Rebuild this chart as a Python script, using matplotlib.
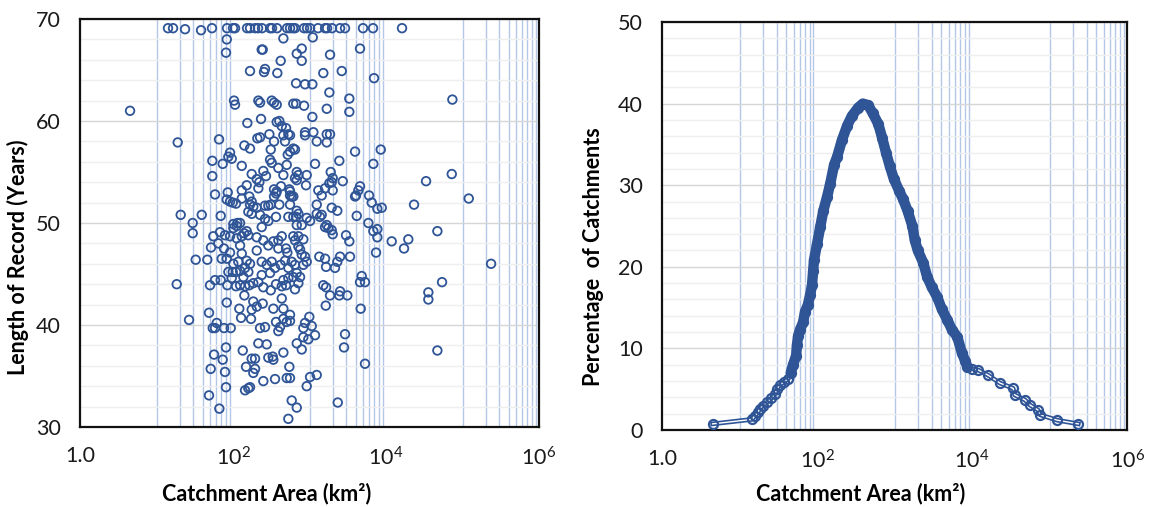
import numpy as np
import matplotlib
matplotlib.use("Agg")
import matplotlib.pyplot as plt
from matplotlib.ticker import FixedLocator, MultipleLocator, NullFormatter
import matplotlib.patheffects as pe

plt.rcParams['font.family'] = ['Lato', 'DejaVu Sans']
plt.rcParams['mathtext.fontset'] = 'custom'
plt.rcParams['mathtext.rm'] = 'Lato'

BLUE = '#2f5597'

# ---- left panel: record length vs catchment area (area read as log10 km2) ----
log_area = [
    # capped at ~69 years
    1.150, 1.216, 1.373, 1.582, 1.725, 1.922, 2.000, 2.026, 2.183, 2.222, 2.288, 2.327,
    2.379, 2.484, 2.510, 2.575, 2.706, 2.745, 2.784, 2.810, 2.928, 2.967, 3.007, 3.111,
    3.203, 3.229, 3.294, 3.399, 3.464, 3.699, 3.830, 4.209,
    # upper left block
    2.658, 1.918, 1.908, 2.375, 2.388, 2.833, 2.623, 2.222, 2.418, 2.405, 2.579, 2.824,
    2.013, 2.026, 2.331, 2.353, 2.506, 2.536, 2.571, 2.788, 2.824, 2.187, 2.366, 2.571,
    2.605, 2.637, 2.693, 2.475, 2.318, 2.353, 2.536, 2.658, 2.723, 2.680, 1.277, 1.817,
    2.148, 2.222, 2.493, 2.788, 2.810, 2.715, 1.961, 1.939, 1.983, 1.729, 1.865, 2.114,
    2.484, 2.506, 2.592, 2.702, 2.396, 2.244, 2.431, 2.658, 1.729, 2.310, 2.344, 2.810,
    2.833, 2.179, 2.331, 2.114, 2.536, 2.571, 2.627, 2.736, 2.745, 1.765, 1.931, 1.918,
    1.961, 1.996, 2.039, 2.114, 2.213, 2.536, 2.562, 2.788, 2.244, 2.222, 2.265, 2.310,
    2.418, 2.461, 2.493, 2.605, 2.745, 1.316, 1.591, 1.839, 2.200, 2.244, 2.353, 2.562,
    2.723, 2.824, 1.473, 2.056, 2.004, 2.418, 2.461,
    # upper right block
    3.042, 2.898, 2.898, 3.268, 3.660, 3.180, 3.421, 3.843, 2.941, 3.037, 3.259, 3.520,
    2.928, 3.225, 3.520, 3.037, 2.745, 2.941, 2.941, 3.050, 3.225, 3.268, 3.094, 3.225,
    2.745, 3.595, 3.931, 3.072, 3.389, 3.834, 2.833, 2.854, 2.963, 3.277, 3.303, 3.290,
    3.259, 3.434, 4.523, 2.954, 3.115, 3.159, 3.203, 3.303, 3.660, 3.638, 3.608, 3.595,
    3.778, 3.813, 2.745, 2.767, 3.094, 3.290, 3.363, 3.886, 3.944, 4.366, 2.833, 2.854,
    2.788, 3.094, 3.137, 3.159, 2.963, 3.007, 3.769, 3.225,
    # lower left block
    1.473, 1.742, 1.830, 1.895, 1.961, 2.004, 2.048, 2.092, 2.144, 2.179, 2.200, 2.114,
    2.048, 1.712, 1.808, 1.882, 1.961, 2.092, 2.114, 2.310, 2.396, 2.461, 2.527, 2.592,
    2.637, 2.592, 2.693, 2.710, 2.788, 2.833, 2.810, 2.310, 2.375, 1.512, 1.664, 1.852,
    1.918, 2.004, 2.069, 2.179, 2.222, 2.157, 1.939, 1.996, 2.039, 2.092, 2.200, 2.135,
    1.983, 2.375, 2.440, 2.506, 2.549, 2.375, 2.484, 2.623, 2.680, 2.723, 2.767, 2.810,
    2.833, 2.788, 2.723, 2.658, 1.765, 1.839, 1.699, 1.925, 2.039, 2.092, 2.157, 2.213,
    2.265, 2.331, 2.396, 2.493, 2.562, 2.637, 2.693, 2.810, 2.148, 1.918, 2.637, 2.265,
    2.388, 2.310, 2.082, 2.244, 2.527, 2.658, 1.686, 2.105, 2.235, 2.353, 2.418, 2.562,
    2.614, 2.592, 2.702, 2.745, 2.658, 1.425, 1.735, 1.787, 1.882, 1.970, 1.765, 2.331,
    2.440, 2.833, 1.908, 2.127, 2.658, 1.752, 1.865, 2.244, 2.288, 2.461, 2.527, 2.519,
    2.170, 2.288, 2.265, 1.708, 1.895, 2.736, 2.396, 2.549, 2.702, 2.745, 1.908, 2.157,
    2.200, 2.222, 1.686, 2.767, 2.833, 1.821, 2.723,
    # lower right block and outliers
    2.898, 3.203, 3.246, 3.290, 3.303, 3.617, 3.834, 3.886, 3.886, 3.477, 3.520, 4.074,
    4.235, 4.291, 4.671, 2.854, 2.919, 2.854, 2.876, 2.898, 2.941, 2.963, 2.919, 3.128,
    3.203, 3.216, 3.333, 3.363, 3.399, 3.529, 3.869, 3.682, 3.660, 3.725, 2.876, 2.854,
    3.180, 3.216, 3.268, 3.399, 3.389, 3.494, 4.553, 4.553, 3.212, 3.669, 2.745, 2.997,
    2.941, 2.919, 3.029, 3.072, 2.984, 2.919, 2.898, 3.464, 3.451, 4.671, 3.725, 3.007,
    3.094, 2.963, 3.369, 4.867, 4.859, 5.081, 5.373, 4.732, 0.654, 1.264,
]

record_years = [
    69.1, 69.1, 69.0, 68.9, 69.1, 69.1, 69.1, 69.1, 69.1, 69.1, 69.1, 69.1,
    69.1, 69.1, 69.1, 69.1, 69.1, 69.1, 69.1, 69.1, 69.1, 69.1, 69.1, 69.1,
    69.1, 69.1, 69.1, 69.1, 69.1, 69.1, 69.1, 69.1,
    68.1, 68.0, 66.7, 67.0, 67.0, 66.6, 65.9, 64.9, 65.1, 64.8, 64.7, 63.7,
    62.0, 61.6, 62.0, 61.8, 62.0, 61.8, 61.6, 61.7, 61.7, 59.8, 60.2, 59.9,
    60.0, 59.5, 59.3, 58.7, 58.3, 58.4, 58.0, 58.6, 58.7, 58.0, 57.9, 58.2,
    57.6, 57.3, 57.2, 57.3, 57.2, 56.7, 56.9, 56.5, 56.3, 56.1, 55.8, 55.6,
    56.2, 55.9, 55.4, 55.7, 55.1, 54.8, 54.6, 54.7, 54.6, 54.3, 54.0, 54.4,
    54.2, 53.7, 53.4, 53.2, 53.3, 53.1, 53.6, 53.3, 53.1, 52.8, 53.0, 52.3,
    52.1, 52.0, 51.9, 52.4, 52.6, 52.6, 52.9, 52.6, 52.1, 51.8, 51.6, 51.5,
    51.7, 51.7, 51.8, 51.8, 51.8, 50.8, 50.8, 50.7, 51.1, 50.9, 50.8, 50.6,
    50.6, 50.6, 50.0, 50.0, 49.9, 50.4, 50.2,
    68.2, 67.1, 65.9, 66.5, 67.1, 64.7, 64.9, 64.2, 63.6, 63.6, 62.8, 62.2,
    61.5, 61.2, 60.9, 60.4, 58.6, 58.9, 58.6, 58.9, 58.7, 58.7, 58.0, 57.9,
    57.0, 57.0, 57.2, 55.8, 56.1, 55.8, 55.0, 54.7, 54.7, 55.0, 54.4, 54.0,
    53.9, 54.1, 54.1, 53.7, 53.2, 52.7, 53.4, 53.2, 53.6, 53.2, 52.7, 52.6,
    52.7, 52.0, 52.7, 52.6, 51.8, 51.5, 51.2, 51.4, 51.5, 51.8, 51.2, 50.9,
    50.6, 50.9, 50.6, 50.8, 50.5, 50.2, 50.0, 49.8,
    49.0, 48.7, 49.1, 48.8, 48.7, 49.5, 49.7, 50.0, 49.0, 49.2, 48.8, 48.7,
    48.5, 47.6, 48.0, 47.5, 47.1, 47.8, 47.0, 48.6, 48.3, 47.8, 48.2, 48.3,
    48.7, 47.5, 47.5, 47.1, 48.7, 49.8, 48.3, 47.3, 49.6, 46.4, 46.4, 46.5,
    46.5, 46.0, 46.2, 46.3, 46.0, 45.6, 45.2, 45.2, 45.2, 45.3, 45.2, 44.7,
    44.6, 46.2, 45.9, 46.2, 45.6, 44.9, 45.1, 45.9, 46.3, 45.6, 46.2, 45.9,
    45.1, 44.7, 44.6, 44.4, 44.4, 44.4, 43.9, 43.9, 43.8, 43.9, 43.8, 43.9,
    44.1, 44.2, 43.7, 43.4, 44.0, 43.8, 43.9, 43.5, 42.9, 42.2, 42.6, 42.3,
    42.1, 41.8, 41.6, 41.5, 41.6, 41.6, 41.2, 40.7, 40.6, 39.7, 39.8, 40.3,
    39.8, 39.4, 40.3, 40.4, 40.6, 40.5, 39.7, 40.2, 39.7, 39.7, 39.7, 38.2,
    38.1, 38.2, 37.8, 37.5, 37.3, 37.1, 36.6, 36.7, 36.7, 36.8, 36.6, 36.9,
    35.9, 35.7, 35.3, 35.7, 35.4, 35.9, 34.5, 34.7, 34.8, 34.8, 33.9, 33.6,
    33.8, 33.9, 33.1, 32.6, 31.9, 31.8, 30.8,
    49.8, 49.6, 49.5, 49.3, 48.9, 50.7, 49.2, 49.4, 48.6, 48.8, 48.2, 48.2,
    47.5, 48.4, 49.2, 48.7, 48.4, 47.7, 47.4, 46.9, 46.7, 46.2, 45.9, 46.7,
    46.5, 45.7, 45.6, 46.2, 46.7, 46.7, 47.1, 44.8, 44.2, 44.2, 44.7, 44.1,
    43.9, 43.7, 42.9, 43.3, 42.9, 42.9, 43.2, 42.5, 41.9, 41.6, 41.0, 40.8,
    40.2, 39.7, 39.9, 39.0, 38.6, 38.8, 37.6, 39.1, 37.8, 37.5, 36.2, 34.9,
    35.1, 34.0, 32.4, 62.1, 54.8, 52.4, 46.0, 44.2, 61.0, 44.0,
]

# ---- right panel: percentage of catchments vs area (km2) ----
curve_area = [4.5, 14.5, 15.8, 17.4, 18.2, 20, 22.6, 25.7, 28.8, 30.2, 33.1, 37.2,
              42.7, 45.7, 49, 53.7, 55, 56.9, 60.3, 66.1, 70, 75.9, 81.3, 86.1,
              89.1, 91.2, 100, 110, 120, 135, 148, 166, 182, 209, 245, 282,
              339, 389, 457, 525, 617, 692, 776, 871, 977, 1148, 1288, 1479,
              1698, 1820, 1995, 2344, 2630, 3020, 3548, 4074, 4786, 5495, 6457, 7413,
              8128, 8710, 10000, 12023, 16218, 22909, 33884, 35481, 47863, 56234, 70795, 75858,
              125893, 234423]
curve_pct = [0.75, 1.3, 1.75, 2.2, 2.6, 3.0, 3.4, 3.9, 4.45, 5.0, 5.5, 5.9,
             6.3, 7.0, 8.0, 9.1, 10.4, 11.5, 12.3, 13.2, 14.5, 15.3, 16.5, 17.8,
             19.5, 20.8, 22.8, 24.9, 26.8, 28.6, 30.2, 32.5, 33.5, 35.5, 37.3, 38.5,
             39.5, 40.0, 39.8, 38.8, 37.5, 35.8, 34.0, 32.3, 30.8, 29.3, 28.3, 26.8,
             25.0, 23.3, 22.0, 20.5, 18.8, 17.5, 16.3, 14.8, 13.5, 12.3, 11.4, 9.4,
             8.5, 7.7, 7.5, 7.35, 6.7, 5.75, 5.1, 4.3, 3.7, 3.05, 2.45, 1.85,
             1.2, 0.75]

x_tick_vals = [1, 1e2, 1e4, 1e6]
x_tick_labels = ['1.0', r'$\mathregular{10^{2}}$', r'$\mathregular{10^{4}}$', r'$\mathregular{10^{6}}$']

# light blue minor grid in alternating decades (10-100, 1e3-1e4, 1e5-1e6)
vgrid = [k * 10.0 ** n for n in (1, 3, 5) for k in range(1, 11)]


def style_axes(ax, ylim, ylabel, ylabel_xy, xlabel_xy):
    ax.set_xscale('log')
    ax.set_xlim(1, 1e6)
    ax.set_ylim(*ylim)
    ax.xaxis.set_major_locator(FixedLocator(x_tick_vals))
    ax.set_xticklabels(x_tick_labels)
    ax.xaxis.set_minor_locator(FixedLocator(vgrid))
    ax.xaxis.set_minor_formatter(NullFormatter())
    ax.yaxis.set_major_locator(MultipleLocator(10))
    ax.yaxis.set_minor_locator(MultipleLocator(2))
    ax.grid(True, which='minor', axis='y', color='#efefef', lw=1.0, zorder=0)
    ax.grid(True, which='major', axis='y', color='#d6d6d6', lw=1.0, zorder=0)
    ax.grid(True, which='minor', axis='x', color='#b4c7e7', lw=1.0, zorder=0)
    ax.grid(False, which='major', axis='x')
    ax.set_axisbelow(True)
    ax.tick_params(which='both', length=0)
    ax.tick_params(axis='x', pad=14, labelsize=15.5, colors='#1a1a1a')
    ax.tick_params(axis='y', pad=14, labelsize=15.5, colors='#1a1a1a')
    for s in ax.spines.values():
        s.set_color('#111111')
        s.set_linewidth(1.6)
    ax.set_xlabel('Catchment Area (km²)', fontsize=15.5, fontweight='bold')
    ax.xaxis.set_label_coords(*xlabel_xy)
    ax.xaxis.label.set_verticalalignment('center')
    ax.set_ylabel(ylabel, fontsize=15.5, fontweight='bold')
    ax.yaxis.set_label_coords(*ylabel_xy)
    ax.yaxis.label.set_verticalalignment('center')


fig = plt.figure(figsize=(11.58, 5.07), dpi=100)
ax1 = fig.add_axes([0.0691, 0.1578, 0.3964, 0.8047])
ax2 = fig.add_axes([0.5717, 0.1519, 0.4016, 0.8047])

area_scatter = 10.0 ** np.array(log_area)
ax1.scatter(area_scatter, record_years, s=38, facecolors='none', edgecolors=BLUE,
            linewidths=1.3, zorder=3, clip_on=False)
style_axes(ax1, (30, 70), 'Length of Record (Years)', (-0.135, 0.415), (0.407, -0.162))

# thin double-edged line over the whole curve
ax2.plot(curve_area, curve_pct, color='white', lw=1.0, zorder=3,
         path_effects=[pe.Stroke(linewidth=3.4, foreground=BLUE), pe.Normal()])
# the densely sampled hump reads as a solid thick band
hump = [i for i, a in enumerate(curve_area) if 45 <= a <= 9000]
ax2.plot([curve_area[i] for i in hump], [curve_pct[i] for i in hump],
         color=BLUE, lw=7.5, solid_capstyle='round', solid_joinstyle='round', zorder=4)
ax2.plot(curve_area, curve_pct, ls='none', marker='o', ms=6.5, mfc='none',
         mec=BLUE, mew=1.6, zorder=5)
style_axes(ax2, (0, 50), 'Percentage  of Catchments', (-0.148, 0.426), (0.426, -0.155))

fig.savefig('out.png', dpi=100)
